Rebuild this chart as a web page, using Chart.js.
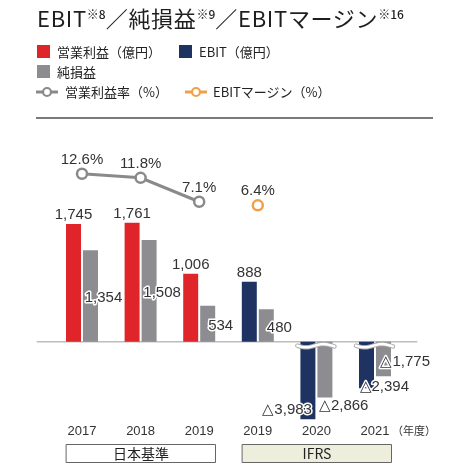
<!DOCTYPE html>
<html>
<head>
<meta charset="utf-8">
<script src="https://cdn.jsdelivr.net/npm/chart.js@4/dist/chart.umd.min.js"></script>
<style>
  html, body { margin: 0; padding: 0; background: #fff; }
  #wrap { position: relative; width: 463px; height: 464px; overflow: hidden; }
  #c { position: absolute; left: 0; top: 0; }
  .t { position: absolute; font-family: "Noto Sans CJK JP", "Noto Sans", sans-serif; color: #222; white-space: nowrap; }
  #title { left: 37px; top: 2px; font-size: 22px; letter-spacing: 0.7px; font-weight: 400; line-height: 30px; color: #1e1e1e; }
  #title sup { font-size: 12px; font-weight: 500; vertical-align: 0; position: relative; top: -8px; letter-spacing: 0; }
  .lg { font-size: 13px; line-height: 16px; }
  .sq { position: absolute; width: 13px; height: 13px; }
  #sep { position: absolute; left: 36px; top: 117px; width: 397px; height: 2px; background: #7a7a7a; }
</style>
</head>
<body>
<div id="wrap">
  <canvas id="c" width="463" height="464"></canvas>
  <div class="t" id="title">EBIT<sup>※8</sup>／純損益<sup>※9</sup>／EBITマージン<sup>※16</sup></div>
  <div class="sq" style="left:37px;top:45px;background:#e0252a"></div>
  <div class="t lg" style="left:57px;top:44px">営業利益（億円）</div>
  <div class="sq" style="left:179px;top:45px;background:#1f3363"></div>
  <div class="t lg" style="left:199px;top:44px">EBIT（億円）</div>
  <div class="sq" style="left:37px;top:65px;background:#8d8d91"></div>
  <div class="t lg" style="left:57px;top:64px">純損益</div>
  <svg style="position:absolute;left:35px;top:86px" width="24" height="12"><line x1="1" y1="6" x2="23" y2="6" stroke="#8a8a8a" stroke-width="3"/><circle cx="12" cy="6" r="4" fill="#fff" stroke="#8a8a8a" stroke-width="2.2"/></svg>
  <div class="t lg" style="left:65px;top:84px">営業利益率（%）</div>
  <svg style="position:absolute;left:184px;top:86px" width="24" height="12"><line x1="1" y1="6" x2="23" y2="6" stroke="#f0a04b" stroke-width="3"/><circle cx="12" cy="6" r="4" fill="#fff" stroke="#f0a04b" stroke-width="2.2"/></svg>
  <div class="t lg" style="left:213px;top:84px">EBITマージン（%）</div>
  <div id="sep"></div>
</div>
<script>
// ---- data ----
const years = ['2017', '2018', '2019', '2019', '2020', '2021'];
const standards = ['日本基準', 'IFRS'];
const standardGroups = [[0, 2], [3, 5]];
const operatingIncome = [1745, 1761, 1006, null, null, null];
const ebit = [null, null, null, 888, -3983, -2394];
const netIncome = [1354, 1508, 534, 480, -2866, -1775];
const operatingMargin = [12.6, 11.8, 7.1, null, null, null];
const ebitMargin = [null, null, null, 6.4, null, null];
const yearUnit = '（年度）';

// ---- broken (compressed negative) value scale ----
const NEG_RATIO = 0.288;
class BrokenLinearScale extends Chart.LinearScale {
  getPixelForValue(v, i) { return super.getPixelForValue(v !== null && v < 0 ? v * NEG_RATIO : v, i); }
  getValueForPixel(p) { const v = super.getValueForPixel(p); return v < 0 ? v / NEG_RATIO : v; }
}
BrokenLinearScale.id = 'brokenLinear';
BrokenLinearScale.defaults = Chart.LinearScale.defaults;
Chart.register(BrokenLinearScale);

const C_RED = '#e0252a', C_NAVY = '#1f3363', C_GRAY = '#8d8d91', C_LINE = '#8a8a8a', C_ORANGE = '#f0a04b';
const LBL_FONT = '15px "Liberation Sans", Arial, sans-serif';
const TXT = '#333';

function fmt(v) {
  const s = Math.abs(v).toLocaleString('en-US');
  return v < 0 ? '△' + s : s;
}

function haloText(ctx, text, x, y, align) {
  ctx.textAlign = align;
  ctx.textBaseline = 'middle';
  ctx.lineJoin = 'round';
  ctx.strokeStyle = '#fff';
  ctx.lineWidth = 3;
  ctx.strokeText(text, x, y);
  ctx.fillStyle = TXT;
  ctx.fillText(text, x, y);
}

const decor = {
  id: 'decor',
  beforeDatasetsDraw(chart) {
    const ctx = chart.ctx, ca = chart.chartArea;
    const y0 = chart.scales.y.getPixelForValue(0);
    ctx.save();
    ctx.strokeStyle = '#bdbdbd';
    ctx.lineWidth = 1.5;
    ctx.beginPath();
    ctx.moveTo(ca.left - 16, y0);
    ctx.lineTo(ca.right + 13, y0);
    ctx.stroke();
    ctx.restore();
  },
  afterDatasetsDraw(chart) {
    const ctx = chart.ctx, ca = chart.chartArea;
    const xs = chart.scales.x, ys = chart.scales.y;
    const y0 = ys.getPixelForValue(0);
    const metaRed = chart.getDatasetMeta(0), metaNavy = chart.getDatasetMeta(1), metaGray = chart.getDatasetMeta(2);
    ctx.save();

    // break marks on negative bars
    for (let i = 0; i < years.length; i++) {
      if (!(ebit[i] < 0)) continue;
      const a = metaNavy.data[i], b = metaGray.data[i];
      const x1 = a.x - a.width / 2 - 3, x2 = b.x + b.width / 2 + 3;
      const yc = y0 + 4;
      const wave = () => {
        ctx.beginPath();
        for (let x = x1; x <= x2; x += 1) {
          const yy = yc + 1.6 * Math.sin((x - x1) / (x2 - x1) * Math.PI * 2.2);
          if (x === x1) ctx.moveTo(x, yy); else ctx.lineTo(x, yy);
        }
        ctx.stroke();
      };
      ctx.lineCap = 'round';
      ctx.strokeStyle = '#a8a8a8'; ctx.lineWidth = 4.5; wave();
      ctx.strokeStyle = '#fff'; ctx.lineWidth = 2.6; wave();
    }

    // bar value labels
    ctx.font = LBL_FONT;
    for (let i = 0; i < years.length; i++) {
      [[metaRed, operatingIncome], [metaNavy, ebit]].forEach(([m, arr]) => {
        const v = arr[i];
        if (v === null) return;
        const el = m.data[i];
        if (v >= 0) haloText(ctx, fmt(v), el.x, el.y - 9, 'center');
        else if (i === 4) haloText(ctx, fmt(v), el.x + 4, el.y - 9, 'right');
        else haloText(ctx, fmt(v), el.x - 7, el.y - 1, 'left');
      });
      const g = netIncome[i];
      if (g !== null) {
        const el = metaGray.data[i];
        if (g >= 0) haloText(ctx, fmt(g), el.x + 13, (el.y + el.base) / 2 + 2, 'center');
        else if (i === 4) haloText(ctx, fmt(g), el.x - 6, el.y + 8, 'left');
        else haloText(ctx, fmt(g), el.x - 3, el.y - 14, 'left');
      }
    }

    // percentage labels
    [3, 4].forEach(di => {
      const m = chart.getDatasetMeta(di);
      const arr = di === 3 ? operatingMargin : ebitMargin;
      arr.forEach((v, i) => {
        if (v === null) return;
        const p = m.data[i];
        haloText(ctx, v.toFixed(1) + '%', p.x, p.y - 14, 'center');
      });
    });

    // year labels
    ctx.font = '13px "Liberation Sans", Arial, sans-serif';
    const yl = ca.bottom + 11;
    years.forEach((y, i) => {
      ctx.fillStyle = TXT; ctx.textAlign = 'center'; ctx.textBaseline = 'middle';
      ctx.fillText(y, xs.getPixelForValue(i), yl);
    });
    ctx.font = '11px "Noto Sans CJK JP", sans-serif';
    ctx.textAlign = 'left';
    ctx.fillText(yearUnit, xs.getPixelForValue(years.length - 1) + 17, yl);

    // accounting standard boxes
    const by = ca.bottom + 24, bh = 18;
    standardGroups.forEach(([s, e], k) => {
      const xa = Math.round(xs.getPixelForValue(s) - 16) + 0.5;
      const xb = Math.round(xs.getPixelForValue(e) + 16) + 0.5;
      ctx.fillStyle = k === 0 ? '#fff' : '#eeeedc';
      ctx.fillRect(xa, by, xb - xa, bh);
      ctx.strokeStyle = '#666'; ctx.lineWidth = 1;
      ctx.strokeRect(xa, by + 0.5, xb - xa, bh);
      ctx.fillStyle = '#222';
      ctx.font = '14px "Noto Sans CJK JP", sans-serif';
      ctx.textAlign = 'center'; ctx.textBaseline = 'middle';
      ctx.fillText(standards[k], (xa + xb) / 2, by + bh / 2 + 1);
    });
    ctx.restore();
  }
};

new Chart(document.getElementById('c'), {
  type: 'bar',
  data: {
    labels: years,
    datasets: [
      { label: '営業利益(億円)', data: operatingIncome, backgroundColor: C_RED, yAxisID: 'y', order: 2 },
      { label: 'EBIT(億円)', data: ebit, backgroundColor: C_NAVY, yAxisID: 'y', order: 2 },
      { label: '純損益', data: netIncome, backgroundColor: C_GRAY, yAxisID: 'y', order: 2 },
      { type: 'line', label: '営業利益率(%)', data: operatingMargin, yAxisID: 'yPct', borderColor: C_LINE, borderWidth: 3,
        pointRadius: 5, pointBackgroundColor: '#fff', pointBorderColor: C_LINE, pointBorderWidth: 2.5, spanGaps: false, order: 1 },
      { type: 'line', label: 'EBITマージン(%)', data: ebitMargin, yAxisID: 'yPct', borderColor: C_ORANGE, borderWidth: 3,
        pointRadius: 5, pointBackgroundColor: '#fff', pointBorderColor: C_ORANGE, pointBorderWidth: 2.5, order: 1 }
    ]
  },
  options: {
    responsive: false,
    animation: false,
    devicePixelRatio: 1,
    layout: { padding: { left: 52.7, right: 58.7, top: 130, bottom: 44 } },
    datasets: { bar: { skipNull: true, categoryPercentage: 0.58, barPercentage: 0.882 } },
    plugins: { legend: { display: false }, tooltip: { enabled: false }, title: { display: false } },
    scales: {
      x: { display: false, offset: true },
      y: { type: 'brokenLinear', display: false, min: -1160, max: 3136 },
      yPct: { type: 'linear', display: false, min: -35.8, max: 21.2 }
    }
  },
  plugins: [decor]
});
</script>
</body>
</html>
